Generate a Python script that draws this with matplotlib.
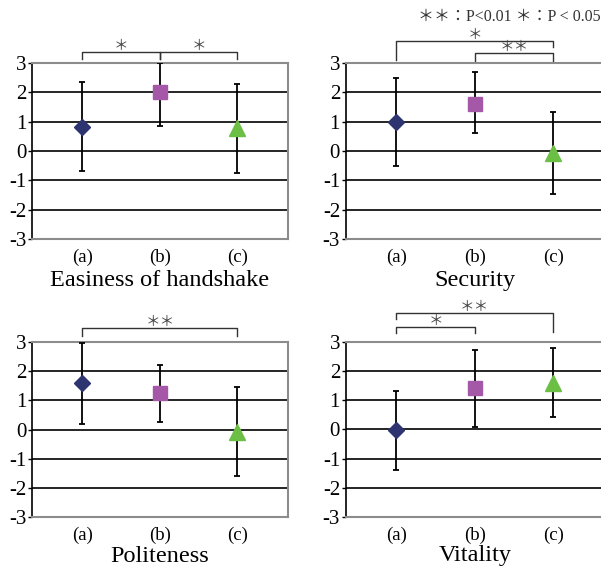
import numpy as np
import matplotlib
matplotlib.use("Agg")
import matplotlib.pyplot as plt

plt.rcParams['font.family'] = ['Liberation Serif', 'Noto Sans CJK JP', 'DejaVu Sans']

# data
cats = ["(a)", "(b)", "(c)"]
titles = ["Easiness of handshake", "Security", "Politeness", "Vitality"]
means = [[0.83, 2.0, 0.77],
         [1.0, 1.62, -0.07],
         [1.6, 1.25, -0.07],
         [-0.02, 1.42, 1.6]]
upper = [[2.35, 3.0, 2.3],
         [2.48, 2.7, 1.33],
         [2.95, 2.2, 1.45],
         [1.33, 2.72, 2.8]]
lower = [[-0.68, 0.87, -0.73],
         [-0.52, 0.6, -1.45],
         [0.2, 0.27, -1.57],
         [-1.38, 0.08, 0.42]]
# brackets: (i, j, height, left leg end, right leg end, label)
brackets = [
    [(0, 1, 3.37, 3.13, 3.13, "＊"), (1, 2, 3.37, 3.13, 3.13, "＊")],
    [(0, 2, 3.76, 3.1, 3.55, "＊"), (1, 2, 3.33, 3.05, 3.05, "＊＊")],
    [(0, 2, 3.46, 3.19, 3.19, "＊＊")],
    [(0, 2, 4.0, 3.8, 3.34, "＊＊"), (0, 1, 3.51, 3.3, 3.3, "＊")],
]
markers = ["D", "s", "^"]
colors = ["#2e3470", "#a557a8", "#6cbf45"]
sizes = [8, 10.5, 11]

fig = plt.figure(figsize=(6.01, 5.68), dpi=100)
boxes = [[0.053, 0.579, 0.426, 0.310],
         [0.575, 0.579, 0.430, 0.310],
         [0.053, 0.089, 0.426, 0.309],
         [0.575, 0.090, 0.430, 0.308]]

for k in range(4):
    ax = fig.add_axes(boxes[k])
    x = np.arange(3)
    for i in range(3):
        m = means[k][i]
        ax.errorbar(x[i], m, yerr=[[m - lower[k][i]], [upper[k][i] - m]],
                    fmt=markers[i], color=colors[i], ms=sizes[i], ecolor="black",
                    elinewidth=1.3, capsize=2.5, capthick=1.3, zorder=3)
    for g in [-2, -1, 0, 1, 2]:
        ax.axhline(g, color="black", lw=1.2, zorder=1)
    ax.set_xlim(-0.65, 2.65)
    ax.set_ylim(-3, 3)
    ax.set_yticks([-3, -2, -1, 0, 1, 2, 3])
    ax.set_yticklabels(["-3", "-2", "-1", "0", "1", "2", "3"], fontsize=15)
    ax.set_xticks(x)
    ax.set_xticklabels(cats, fontsize=13.5)
    ax.tick_params(axis="x", length=0, pad=7)
    ax.tick_params(axis="y", length=3, width=1, pad=1, direction="out")
    ax.set_xlabel(titles[k], fontsize=17.5, labelpad=3 if k < 2 else 1)
    for s in ["top", "right", "bottom"]:
        ax.spines[s].set_color("#8c8c8c")
        ax.spines[s].set_linewidth(1.5)
    ax.spines["left"].set_color("black")
    ax.spines["left"].set_linewidth(1.2)

    for (i, j, h, hl, hr, lab) in brackets[k]:
        ax.plot([x[i], x[i], x[j], x[j]], [hl, h, h, hr], color="#333333",
                lw=1.0, clip_on=False)
        ax.text((x[i] + x[j]) / 2, h - 0.03, lab, ha="center", va="bottom",
                fontsize=10.5, color="#444444", clip_on=False)

fig.text(0.999, 0.970, "＊＊：P<0.01 ＊：P < 0.05", ha="right", va="center",
         fontsize=11.5, color="#333333")

fig.savefig("out.png", dpi=100)
